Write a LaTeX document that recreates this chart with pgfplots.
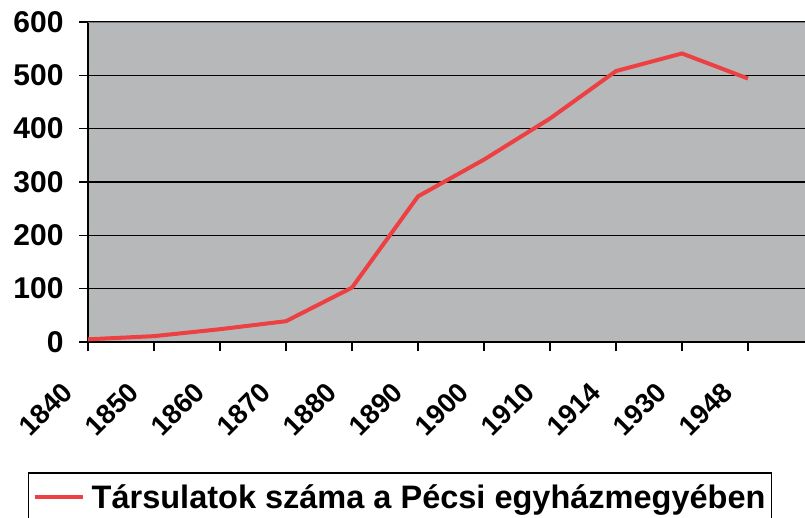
\documentclass[border=0pt]{standalone}
\usepackage{pgfplots}
\pgfplotsset{compat=1.18}
\usepackage{fontspec}
\setmainfont{Liberation Sans}
\definecolor{bggray}{RGB}{183,184,186}
\definecolor{linered}{RGB}{236,64,66}
\definecolor{topgray}{RGB}{120,120,120}
\begin{document}
\begin{tikzpicture}[x=1pt,y=1pt]
\begin{axis}[
  at={(88pt,175pt)}, anchor=south west,
  scale only axis, width=717pt, height=320pt,
  xmin=0, xmax=10.864, ymin=0, ymax=600,
  axis background/.style={fill=bggray},
  axis x line*=bottom, axis y line*=left,
  axis line style={black, line width=1.6pt, -},
  xtick={0,1,...,10},
  xticklabels={1840,1850,1860,1870,1880,1890,1900,1910,1914,1930,1948},
  ytick={0,100,...,600},
  ymajorgrids, major grid style={black, line width=1.3pt},
  tick align=outside, major tick length=9pt,
  tick style={black, line width=1.2pt},
  /pgf/number format/assume math mode=true,
  ticklabel style={font=\bfseries\fontsize{30}{30}\selectfont},
  yticklabel style={anchor=east, xshift=-12pt},
  xticklabel style={anchor=east, xshift=-18pt, yshift=-34pt, rotate=45, font=\bfseries\fontsize{27.5}{27.5}\selectfont},
  legend style={at={(axis description cs:-0.0837,-0.40625)}, anchor=north west,
    draw=black, line width=1.5pt, fill=white,
    inner xsep=4pt, inner ysep=10pt,
    font=\bfseries\fontsize{32.5}{33}\selectfont},
  legend image code/.code={\draw[#1, line width=4pt] (0pt,0pt) -- (48pt,0pt);},
  legend cell align=left,
]
\addplot[linered, line width=4pt, line join=miter] coordinates {
  (0,5) (1,11) (2,24) (3,39) (4,102) (5,273) (6,342) (7,419) (8,508) (9,541) (10,494)
};
\addlegendentry{\hspace{5pt}Társulatok száma a Pécsi egyházmegyében\hspace{5pt}}
\draw[topgray, line width=1.6pt] (rel axis cs:0,1) -- (rel axis cs:1,1);
\end{axis}
\pgfresetboundingbox
\useasboundingbox (0,0) rectangle (805,517);
\end{tikzpicture}
\end{document}
